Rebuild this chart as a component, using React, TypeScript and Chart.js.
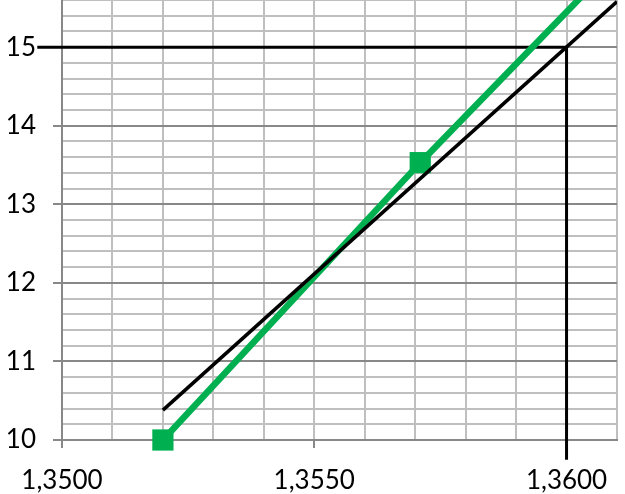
import React, { useEffect, useRef } from 'react';
import Chart from 'chart.js/auto';

// measured series (green, with markers) - last point lies beyond the visible area
const seriesX = [1.352, 1.3571, 1.362];
const seriesY = [10.0, 13.53, 16.77];

// linear trend line
const trendX = [1.352, 1.361];
const trendY = [10.38, 15.58];

// reading lines: y = 15 -> x = 1,3600
const dropX = [1.34951, 1.36, 1.36];
const dropY = [15, 15, 9.75];

const xMin = 1.35;
const xMax = 1.361;
const yMin = 10;
const yMax = 15.6;

const toPoints = (xs: number[], ys: number[]) => xs.map((x, i) => ({ x, y: ys[i] }));

const isInt = (v: number) => Math.abs(v - Math.round(v)) < 1e-6;
const isMajorX = (v: number) => Math.round(v * 10000) % 50 === 0;

const FONT = { family: 'Lato, "Noto Sans", sans-serif', size: 26 };

export default function App() {
  const canvasRef = useRef<HTMLCanvasElement>(null);
  const chartRef = useRef<Chart | null>(null);

  useEffect(() => {
    document.body.style.margin = '0';
    if (!canvasRef.current) return;
    const ctx = canvasRef.current.getContext('2d');
    if (!ctx) return;

    chartRef.current?.destroy();
    chartRef.current = new Chart(ctx, {
      type: 'scatter',
      data: {
        datasets: [
          {
            label: 'Trend',
            data: toPoints(trendX, trendY),
            showLine: true,
            borderColor: '#000000',
            borderWidth: 3.5,
            pointRadius: 0,
            order: 0,
          },
          {
            label: 'Series',
            data: toPoints(seriesX, seriesY),
            showLine: true,
            borderColor: '#00B050',
            backgroundColor: '#00B050',
            borderWidth: 6.5,
            pointStyle: 'rect',
            pointRadius: 15,
            pointBorderWidth: 0,
            clip: false,
            order: 1,
          },
          {
            label: 'Drop',
            data: toPoints(dropX, dropY),
            showLine: true,
            borderColor: '#000000',
            borderWidth: 3,
            pointRadius: 0,
            clip: false,
            order: 2,
          },
        ],
      },
      options: {
        animation: false,
        responsive: false,
        layout: { padding: { top: 0, right: 8, left: 0, bottom: 0 }, autoPadding: false },
        plugins: {
          legend: { display: false },
          tooltip: { enabled: false },
        },
        scales: {
          x: {
            type: 'linear',
            min: xMin,
            max: xMax,
            afterFit: (scale: any) => {
              scale.height = 54;
              scale.paddingLeft = 0;
              scale.paddingRight = 0;
              scale.paddingTop = 0;
              scale.paddingBottom = 0;
            },
            border: { color: '#888888', width: 2 },
            grid: {
              color: '#bfbfbf',
              lineWidth: 2,
              tickLength: 8,
              tickColor: (c) => (c.tick && isMajorX(c.tick.value) ? '#888888' : 'rgba(0,0,0,0)'),
              tickWidth: 2,
            },
            ticks: {
              stepSize: 0.001,
              autoSkip: false,
              maxRotation: 0,
              padding: 17,
              color: '#000000',
              font: FONT,
              callback: (v) => (isMajorX(Number(v)) ? Number(v).toFixed(4).replace('.', ',') : ''),
            },
          },
          y: {
            type: 'linear',
            min: yMin,
            max: yMax,
            afterFit: (scale: any) => {
              scale.width = 62;
              scale.paddingLeft = 0;
              scale.paddingRight = 0;
              scale.paddingTop = 0;
              scale.paddingBottom = 0;
            },
            border: { color: '#888888', width: 2 },
            grid: {
              color: (c) => (c.tick && isInt(c.tick.value) ? '#888888' : '#bfbfbf'),
              lineWidth: 2,
              tickLength: 9,
              tickColor: (c) => (c.tick && isInt(c.tick.value) ? '#888888' : 'rgba(0,0,0,0)'),
              tickWidth: 2,
            },
            ticks: {
              stepSize: 0.2,
              autoSkip: false,
              padding: 17,
              color: '#000000',
              font: FONT,
              callback: (v) => (isInt(Number(v)) ? String(Math.round(Number(v))) : ''),
            },
          },
        },
      },
    });

    return () => {
      chartRef.current?.destroy();
      chartRef.current = null;
    };
  }, []);

  return (
    <div style={{ width: '625px', height: '494px', background: '#ffffff' }}>
      <canvas ref={canvasRef} width={625} height={494} />
    </div>
  );
}
